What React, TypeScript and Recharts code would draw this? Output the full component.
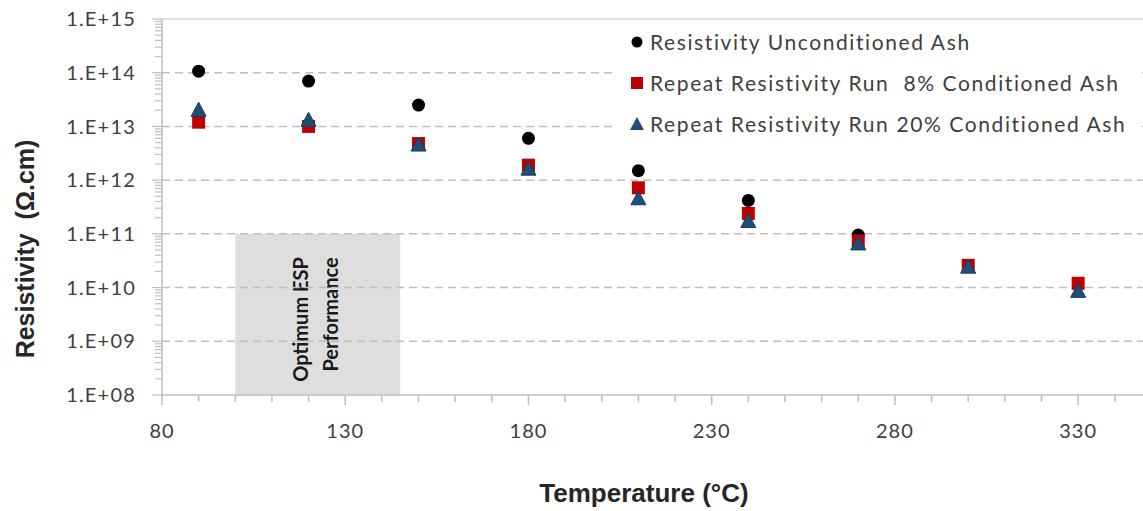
import React from "react";
import {
  ScatterChart,
  Scatter,
  XAxis,
  YAxis,
  ReferenceArea,
  ReferenceLine,
} from "recharts";

// Temperature (°C) at which each run was measured
const temperatures = [90, 120, 150, 180, 210, 240, 270, 300, 330];

// Resistivity (Ω.cm)
const unconditionedAsh = [1.07e14, 7.0e13, 2.5e13, 6.0e12, 1.5e12, 4.2e11, 9.5e10, null, null];
const conditioned8 = [1.2e13, 1.0e13, 4.8e12, 1.9e12, 7.2e11, 2.4e11, 7.4e10, 2.6e10, 1.2e10];
const conditioned20 = [2.0e13, 1.3e13, 4.5e12, 1.6e12, 4.5e11, 1.7e11, 6.5e10, 2.4e10, 8.5e9];

const seriesNames = [
  "Resistivity Unconditioned Ash",
  "Repeat Resistivity Run  8% Conditioned Ash",
  "Repeat Resistivity Run 20% Conditioned Ash",
];

const xMajorTicks = [80, 130, 180, 230, 280, 330];
const xAllTicks = [
  80, 90, 100, 110, 120, 130, 140, 150, 160, 170, 180, 190, 200, 210, 220, 230,
  240, 250, 260, 270, 280, 290, 300, 310, 320, 330, 340,
];
const yMajorTicks = [1e8, 1e9, 1e10, 1e11, 1e12, 1e13, 1e14, 1e15];
const yMinorSteps = [2, 3, 4, 5, 6, 7, 8, 9];
const yAllTicks = [
  ...yMajorTicks,
  ...yMajorTicks.slice(0, -1).flatMap((d) => yMinorSteps.map((m) => m * d)),
];

const optimumZone = { from: 100, to: 145, low: 1e8, high: 1e11 };

const AXIS_COLOR = "#bfbfbf";
const TEXT_COLOR = "#404040";
const FONT = "Lato, 'Open Sans', sans-serif";
const TITLE_FONT = "'Liberation Sans', Arial, sans-serif";

const toPoints = (values: (number | null)[]) =>
  temperatures
    .map((t, i) => ({ x: t, y: values[i] }))
    .filter((p) => p.y !== null);

const formatExp = (v: number) => {
  const e = Math.round(Math.log10(v));
  return `1.E+${String(e).padStart(2, "0")}`;
};

const YTick = (props: any) => {
  const { x, y, payload } = props;
  const major = yMajorTicks.includes(payload.value);
  return (
    <g>
      <line x1={x - (major ? 10 : 7)} x2={x} y1={y} y2={y} stroke={AXIS_COLOR} strokeWidth={1.2} />
      {major && (
        <text
          x={x - 26}
          y={y}
          dy="0.36em"
          textAnchor="end"
          fill={TEXT_COLOR}
          fontSize={20}
          letterSpacing={1.2}
          fontFamily={FONT}
        >
          {formatExp(payload.value)}
        </text>
      )}
    </g>
  );
};

const XTick = (props: any) => {
  const { x, y, payload } = props;
  const major = xMajorTicks.includes(payload.value);
  return (
    <g>
      <line x1={x} x2={x} y1={y} y2={y + (major ? 10 : 7)} stroke={AXIS_COLOR} strokeWidth={1.5} />
      {major && (
        <text
          x={x}
          y={y + 36}
          dy="0.36em"
          textAnchor="middle"
          fill={TEXT_COLOR}
          fontSize={20}
          letterSpacing={1}
          fontFamily={FONT}
        >
          {payload.value}
        </text>
      )}
    </g>
  );
};

const CircleDot = ({ cx, cy }: any) => <circle cx={cx} cy={cy} r={6.5} fill="#000000" />;
const SquareDot = ({ cx, cy }: any) => (
  <rect x={cx - 6.5} y={cy - 6.5} width={13} height={13} fill="#c00000" />
);
const TriangleDot = ({ cx, cy }: any) => (
  <polygon
    points={`${cx},${cy - 8} ${cx + 7.5},${cy + 6} ${cx - 7.5},${cy + 6}`}
    fill="#1f4e79"
    stroke="#173a5e"
    strokeWidth={1}
  />
);

const OptimumLabel = (props: any) => {
  const vb = props.viewBox || {};
  const cx = vb.x + vb.width / 2;
  const cy = vb.y + vb.height / 2;
  return (
    <g fontFamily={FONT} fontWeight="bold" fontSize={20} fill="#1a1a1a">
      <text transform={`translate(${cx - 17},${cy + 5}) rotate(-90)`} textAnchor="middle" dy="0.35em">
        Optimum ESP
      </text>
      <text transform={`translate(${cx + 13},${cy}) rotate(-90)`} textAnchor="middle" dy="0.35em">
        Performance
      </text>
    </g>
  );
};

const legendRows = [
  { name: seriesNames[0], y: 42, mark: (x: number, y: number) => <circle cx={x} cy={y} r={5.5} fill="#000" /> },
  { name: seriesNames[1], y: 83, mark: (x: number, y: number) => <rect x={x - 6} y={y - 6} width={12} height={12} fill="#c00000" /> },
  {
    name: seriesNames[2],
    y: 124,
    mark: (x: number, y: number) => (
      <polygon points={`${x},${y - 7} ${x + 7},${y + 6} ${x - 7},${y + 6}`} fill="#1f4e79" />
    ),
  },
];

export default function App() {
  return (
    <div style={{ position: "absolute", left: 0, top: 0, width: 1143, height: 511, background: "#fff" }}>
      <ScatterChart width={1143} height={511} margin={{ top: 19, right: 0, bottom: 56, left: 62 }}>
        <XAxis
          type="number"
          dataKey="x"
          domain={[80, 347.7]}
          ticks={xAllTicks}
          interval={0}
          allowDataOverflow
          height={60}
          tickSize={0}
          tickMargin={0}
          tickLine={false}
          tick={<XTick />}
          axisLine={{ stroke: AXIS_COLOR, strokeWidth: 1.5 }}
        />
        <YAxis
          type="number"
          dataKey="y"
          scale="log"
          domain={[1e8, 1e15]}
          ticks={yAllTicks}
          interval={0}
          allowDataOverflow
          width={100}
          tickSize={0}
          tickMargin={0}
          tickLine={false}
          tick={<YTick />}
          axisLine={{ stroke: AXIS_COLOR, strokeWidth: 1.5 }}
        />
        <ReferenceArea
          x1={optimumZone.from}
          x2={optimumZone.to}
          y1={optimumZone.low}
          y2={optimumZone.high}
          fill="#bdbdbd"
          fillOpacity={0.5}
          stroke="none"
          label={(p: any) => <OptimumLabel {...p} />}
        />
        {yMajorTicks.slice(1, -1).map((v) => (
          <ReferenceLine key={v} y={v} stroke={AXIS_COLOR} strokeWidth={1.5} strokeDasharray="8 5" />
        ))}
        <ReferenceLine y={1e15} stroke="#d9d9d9" strokeWidth={1.5} />
        <Scatter name={seriesNames[0]} data={toPoints(unconditionedAsh)} shape={<CircleDot />} isAnimationActive={false} />
        <Scatter name={seriesNames[1]} data={toPoints(conditioned8)} shape={<SquareDot />} isAnimationActive={false} />
        <Scatter name={seriesNames[2]} data={toPoints(conditioned20)} shape={<TriangleDot />} isAnimationActive={false} />
      </ScatterChart>
      <svg
        width={1143}
        height={511}
        style={{ position: "absolute", left: 0, top: 0, pointerEvents: "none" }}
        fontFamily={FONT}
      >
        <rect x={615} y={22} width={527} height={124} fill="#fff" />
        {legendRows.map((r) => (
          <g key={r.name}>
            {r.mark(637, r.y)}
            <text
              x={650}
              y={r.y}
              dy="0.36em"
              fontSize={21}
              letterSpacing={1.6}
              fill={TEXT_COLOR}
              style={{ whiteSpace: "pre" }}
            >
              {r.name}
            </text>
          </g>
        ))}
        <text
          transform="translate(25,249) rotate(-90)"
          textAnchor="middle"
          dy="0.35em"
          fontSize={25}
          fontWeight="bold"
          fontFamily={TITLE_FONT}
          fill="#262626"
          style={{ whiteSpace: "pre" }}
        >
          Resistivity  (Ω.cm)
        </text>
        <text
          x={644}
          y={493}
          textAnchor="middle"
          dy="0.35em"
          fontSize={26}
          fontWeight="bold"
          fontFamily={TITLE_FONT}
          fill="#262626"
        >
          Temperature (°C)
        </text>
      </svg>
    </div>
  );
}
